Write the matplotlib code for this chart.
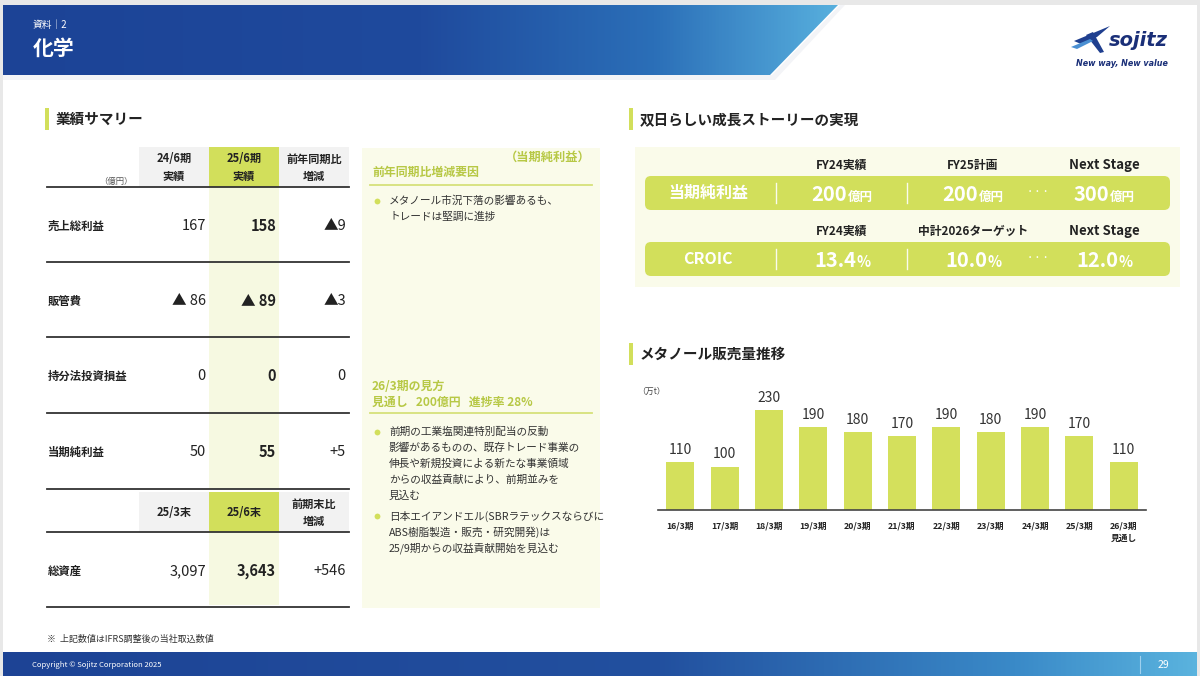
import matplotlib
matplotlib.use('Agg')
import matplotlib.pyplot as plt
import numpy as np
from matplotlib.patches import Rectangle, FancyBboxPatch, Polygon
from matplotlib.colors import LinearSegmentedColormap

plt.rcParams['font.family'] = ['Noto Sans CJK JP', 'DejaVu Sans']

# ---------------- data ----------------
periods = ['16/3期', '17/3期', '18/3期', '19/3期', '20/3期', '21/3期',
           '22/3期', '23/3期', '24/3期', '25/3期', '26/3期\n見通し']
volumes = [110, 100, 230, 190, 180, 170, 190, 180, 190, 170, 110]

summary_items = ['売上総利益', '販管費', '持分法投資損益', '当期純利益']
summary_prev = ['167', '▲ 86', '0', '50']
summary_curr = ['158', '▲ 89', '0', '55']
summary_diff = ['▲9', '▲3', '0', '+5']
summary_head = [('24/6期', '実績'), ('25/6期', '実績'), ('前年同期比', '増減')]

asset_head = [('25/3末',), ('25/6末',), ('前期末比', '増減')]
asset_item = '総資産'
asset_prev = '3,097'
asset_curr = '3,643'
asset_diff = '+546'

story_head1 = ['FY24実績', 'FY25計画', 'Next Stage']
story_vals1 = ['200', '200', '300']
story_head2 = ['FY24実績', '中計2026ターゲット', 'Next Stage']
story_vals2 = ['13.4', '10.0', '12.0']

bullets1 = ['メタノール市況下落の影響あるも、\nトレードは堅調に進捗']
bullets2 = ['前期の工業塩関連特別配当の反動\n影響があるものの、既存トレード事業の\n伸長や新規投資による新たな事業領域\nからの収益貢献により、前期並みを\n見込む',
            '日本エイアンドエル(SBRラテックスならびに\nABS樹脂製造・販売・研究開発)は\n25/9期からの収益貢献開始を見込む']

# ---------------- colors ----------------
GREEN = '#d2df5b'
GREEN_TXT = '#b7c845'
CREAM = '#fafbea'
LIGHT_COL = '#f6f9e1'
GRAY_CELL = '#f2f2f2'
DARK = '#222222'

W, H = 1200, 676
fig = plt.figure(figsize=(12, 6.76), dpi=100)
fig.patch.set_facecolor('#e8e8e8')
ax = fig.add_axes([0, 0, 1, 1])
ax.set_xlim(0, W)
ax.set_ylim(H, 0)
ax.axis('off')

ax.add_patch(Rectangle((3, 5), 1194, 671, facecolor='white', edgecolor='none', zorder=0))

# header band with gradient
cmap_h = LinearSegmentedColormap.from_list('h', [(0, '#1c4396'), (0.5, '#1f4a9d'),
                                                  (0.78, '#2b6fb8'), (1, '#58b0de')])
grad = np.linspace(0, 1, 512).reshape(1, -1)
shadow = Polygon([(3, 75), (772, 75), (840, 5), (845, 5), (775, 80), (3, 80)],
                 closed=True, facecolor='#f3f4f7', edgecolor='none', zorder=1)
ax.add_patch(shadow)
im = ax.imshow(grad, cmap=cmap_h, extent=[3, 840, 75, 5], aspect='auto', zorder=2)
clip = Polygon([(3, 5), (838, 5), (770, 75), (3, 75)], closed=True,
               facecolor='none', edgecolor='none')
ax.add_patch(clip)
im.set_clip_path(clip)

ax.text(33, 25, '資料｜2', color='white', fontsize=7, va='center', ha='left', zorder=3)
ax.text(33, 48, '化学', color='white', fontsize=15, fontweight='bold', va='center', ha='left', zorder=3)

# footer band
cmap_f = LinearSegmentedColormap.from_list('f', [(0, '#1d4395'), (0.55, '#22509f'),
                                                  (0.85, '#3a8ac8'), (1, '#5ab3de')])
ax.imshow(grad, cmap=cmap_f, extent=[3, 1197, 676, 652], aspect='auto', zorder=2)
ax.text(32, 665, 'Copyright © Sojitz Corporation 2025', color='white', fontsize=5.5,
        va='center', ha='left', zorder=3)
ax.plot([1140, 1140], [656, 673], color='#9fd0ee', lw=0.8, zorder=3)
ax.text(1163, 665, '29', color='white', fontsize=7.5, va='center', ha='center', zorder=3)

# logo
ax.add_patch(Polygon([(1074, 41), (1098, 31), (1110, 26), (1097, 37), (1081, 44)],
                     closed=True, facecolor='#1f3f8f', edgecolor='none', zorder=3))
ax.add_patch(Polygon([(1086, 35), (1093, 32), (1104, 52), (1100, 53)],
                     closed=True, facecolor='#1f3f8f', edgecolor='none', zorder=3))
ax.add_patch(Polygon([(1071, 47), (1090, 39), (1093, 41), (1077, 49)],
                     closed=True, facecolor='#4a8fd2', edgecolor='none', zorder=3))
ax.text(1109, 41, 'sojitz', color='#1a2f78', fontsize=14, fontweight='bold', style='italic',
        family=['DejaVu Sans'], va='center', ha='left', zorder=3)
ax.text(1122, 63, 'New way, New value', color='#1a2f78', fontsize=5.8, fontweight='bold',
        style='italic', family=['DejaVu Sans'], va='center', ha='center', zorder=3)

# section titles
def section(x, y, title):
    ax.add_patch(Rectangle((x, y - 11), 4, 22, facecolor=GREEN, edgecolor='none', zorder=3))
    ax.text(x + 11, y, title, fontsize=10.5, fontweight='bold', color=DARK, va='center', ha='left', zorder=3)

section(45, 119, '業績サマリー')
section(629, 119, '双日らしい成長ストーリーの実現')
section(629, 354, 'メタノール販売量推移')

# ---------------- summary table ----------------
col_edges = [(139, 209), (209, 279), (279, 349)]
col_right = [206, 276, 346]
ax.add_patch(Rectangle((209, 187), 70, 302, facecolor=LIGHT_COL, edgecolor='none', zorder=1))
ax.add_patch(Rectangle((209, 532), 70, 73, facecolor=LIGHT_COL, edgecolor='none', zorder=1))

def header_cells(top, bottom, labels):
    for (x0, x1), lab, fc in zip(col_edges, labels, [GRAY_CELL, GREEN, GRAY_CELL]):
        ax.add_patch(Rectangle((x0, top), x1 - x0, bottom - top, facecolor=fc, edgecolor='none', zorder=1))
        cx = (x0 + x1) / 2
        cy = (top + bottom) / 2
        if len(lab) == 2:
            ax.text(cx, cy - 8, lab[0], fontsize=8, fontweight='bold', color=DARK, ha='center', va='center', zorder=3)
            ax.text(cx, cy + 9, lab[1], fontsize=8, fontweight='bold', color=DARK, ha='center', va='center', zorder=3)
        else:
            ax.text(cx, cy, lab[0], fontsize=8, fontweight='bold', color=DARK, ha='center', va='center', zorder=3)

header_cells(147, 187, summary_head)
ax.text(133, 181, '（億円）', fontsize=6, color='#555555', ha='right', va='center', zorder=3)

row_lines = [187, 262, 337, 413, 489, 532, 607]
for yl in row_lines:
    ax.plot([47, 349], [yl, yl], color='#333333', lw=1.3, zorder=3)

row_y = [226, 301, 376, 452]
for y, lab, p, c, d in zip(row_y, summary_items, summary_prev, summary_curr, summary_diff):
    ax.text(48, y, lab, fontsize=8.2, fontweight='bold', color=DARK, ha='left', va='center', zorder=3)
    ax.text(col_right[0], y, p, fontsize=10.5, color=DARK, ha='right', va='center', zorder=3)
    ax.text(col_right[1], y, c, fontsize=10.5, fontweight='bold', color=DARK, ha='right', va='center', zorder=3)
    ax.text(col_right[2], y, d, fontsize=10.5, color=DARK, ha='right', va='center', zorder=3)

header_cells(492, 532, asset_head)
ax.text(48, 571, asset_item, fontsize=8.2, fontweight='bold', color=DARK, ha='left', va='center', zorder=3)
ax.text(col_right[0], 571, asset_prev, fontsize=10.5, color=DARK, ha='right', va='center', zorder=3)
ax.text(col_right[1], 571, asset_curr, fontsize=10.5, fontweight='bold', color=DARK, ha='right', va='center', zorder=3)
ax.text(col_right[2], 571, asset_diff, fontsize=10.5, color=DARK, ha='right', va='center', zorder=3)

ax.text(47, 639, '※  上記数値はIFRS調整後の当社取込数値', fontsize=6.5, color='#333333', ha='left', va='center', zorder=3)

# ---------------- middle notes panel ----------------
ax.add_patch(Rectangle((362, 148), 238, 460, facecolor=CREAM, edgecolor='none', zorder=1))
ax.text(591, 157, '（当期純利益）', fontsize=8.8, fontweight='bold', color=GREEN_TXT, ha='right', va='center', zorder=3)
ax.text(372, 172, '前年同期比増減要因', fontsize=8.6, fontweight='bold', color=GREEN_TXT, ha='left', va='center', zorder=3)
ax.plot([370, 592], [185, 185], color='#d6e17a', lw=1.3, zorder=3)

ax.text(372, 386, '26/3期の見方', fontsize=8.6, fontweight='bold', color=GREEN_TXT, ha='left', va='center', zorder=3)
ax.text(372, 402, '見通し   200億円   進捗率 28%', fontsize=8.6, fontweight='bold', color=GREEN_TXT, ha='left', va='center', zorder=3)
ax.plot([370, 592], [413, 413], color='#d6e17a', lw=1.3, zorder=3)

def bullets(items, y0, step=16, gap=4):
    y = y0
    for it in items:
        lines = it.split('\n')
        ax.plot(377, y, 'o', ms=4.2, color=GREEN, mec='none', zorder=3)
        for ln in lines:
            ax.text(389, y, ln, fontsize=7.7, color='#333333', ha='left', va='center', zorder=3)
            y += step
        y += gap

bullets(bullets1, 201, step=15.5)
bullets(bullets2, 432, step=16, gap=4)

# ---------------- story panel ----------------
ax.add_patch(Rectangle((635, 147), 545, 140, facecolor=CREAM, edgecolor='none', zorder=1))
fig.canvas.draw()
renderer = fig.canvas.get_renderer()

col_cx = [842, 973, 1104]

def pair(cx, y, big, small, bs, ss):
    t1 = ax.text(0, y, big, fontsize=bs, fontweight='bold', color='white', ha='left', va='baseline', zorder=4)
    t2 = ax.text(0, y, small, fontsize=ss, fontweight='bold', color='white', ha='left', va='baseline', zorder=4)
    w1 = t1.get_window_extent(renderer).width
    w2 = t2.get_window_extent(renderer).width
    x0 = cx - (w1 + w2) / 2
    t1.set_x(x0)
    t2.set_x(x0 + w1 + 1)

def story_row(top, heads, label, vals, small):
    for cx, h in zip(col_cx, heads):
        fs = 9.5 if h == 'Next Stage' else 8.5
        ax.text(cx, top - 11, h, fontsize=fs, fontweight='bold', color=DARK, ha='center', va='center', zorder=3)
    ax.add_patch(FancyBboxPatch((645, top), 525, 34, boxstyle='round,pad=0,rounding_size=6',
                                facecolor=GREEN, edgecolor='none', zorder=2))
    ax.text(708, top + 17, label, fontsize=11.5, fontweight='bold', color='white', ha='center', va='center', zorder=4)
    for xd in [776, 907]:
        ax.plot([xd, xd], [top + 7, top + 27], color='white', lw=1.0, alpha=0.9, zorder=4)
    ax.text(1038, top + 16, '・・・', fontsize=6, color='white', ha='center', va='center', zorder=4)
    for cx, v in zip(col_cx, vals):
        pair(cx, top + 25, v, small, 14.5, 9 if small != '%' else 10.5)

story_row(176, story_head1, '当期純利益', story_vals1, '億円')
story_row(242, story_head2, 'CROIC', story_vals2, '%')

# ---------------- bar chart ----------------
ax.text(637, 391, '（万t）', fontsize=6, color='#444444', ha='left', va='center', zorder=3)
bx = fig.add_axes([658 / W, (H - 510) / H, 488 / W, 130 / H])
bx.patch.set_alpha(0)
x = np.arange(len(volumes))
bx.bar(x, volumes, width=0.63, color='#d4e05c', zorder=2)
bx.set_xlim(-0.5, len(volumes) - 0.5)
bx.set_ylim(0, 230 * 130 / 100)
for xi, v in zip(x, volumes):
    bx.text(xi, v + 12, f'{v}', fontsize=10, color='#333333', ha='center', va='bottom')
bx.set_xticks(x)
bx.set_xticklabels(periods, fontsize=6.3, fontweight='bold', color=DARK, linespacing=1.5)
bx.tick_params(axis='x', length=0, pad=8)
bx.set_yticks([])
for s in ['top', 'left', 'right']:
    bx.spines[s].set_visible(False)
bx.spines['bottom'].set_color('#444444')
bx.spines['bottom'].set_linewidth(1.2)

ax.set_xlim(0, W)
ax.set_ylim(H, 0)
fig.savefig('out.png', dpi=100, facecolor=fig.get_facecolor())
